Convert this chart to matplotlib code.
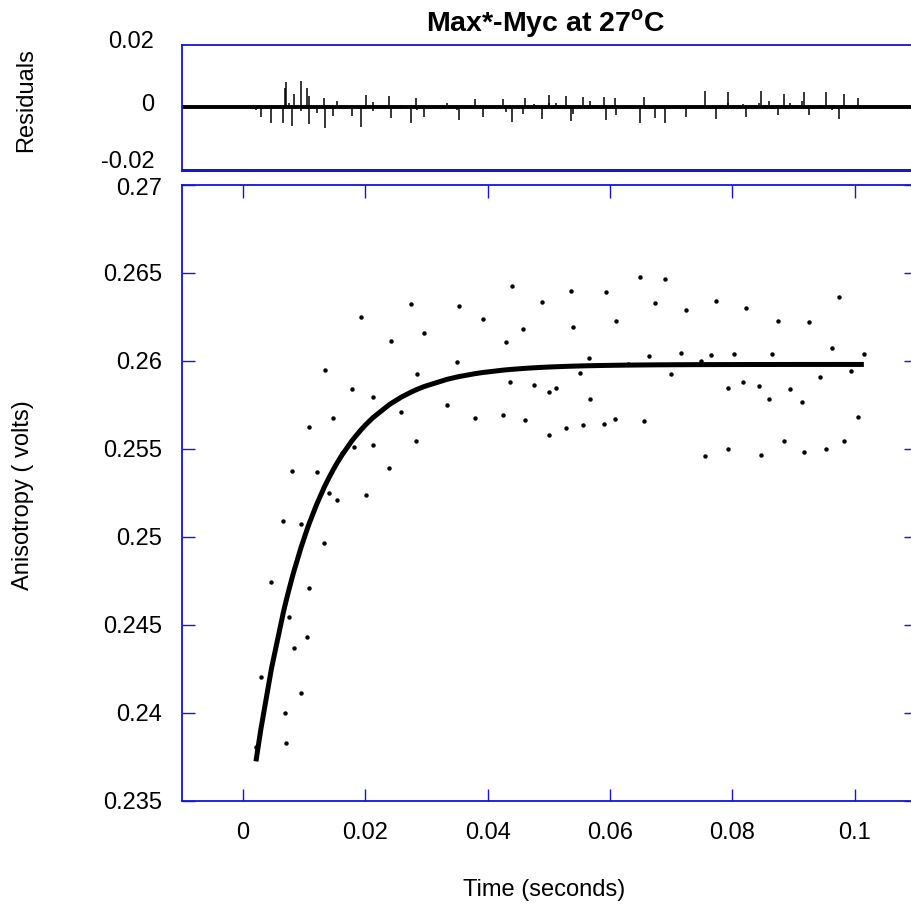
import numpy as np
import matplotlib.pyplot as plt
import matplotlib.transforms as mtransforms

plt.rcParams['font.family'] = ['Liberation Sans', 'DejaVu Sans']
plt.rcParams['mathtext.fontset'] = 'custom'
plt.rcParams['mathtext.rm'] = 'Liberation Sans'
plt.rcParams['mathtext.bf'] = 'Liberation Sans:bold'

# measured anisotropy (time in s, value in volts)
time_s = [0.00209, 0.00286, 0.00463, 0.00659, 0.00680, 0.00705, 0.00744, 0.00806,
          0.00827, 0.00945, 0.00945, 0.01048, 0.01081, 0.01081, 0.01202, 0.01321,
          0.01333, 0.01403, 0.01473, 0.01539, 0.01616, 0.01774, 0.01812, 0.01926,
          0.02008, 0.02119, 0.02123, 0.02389, 0.02420, 0.02584, 0.02749, 0.02831,
          0.02842, 0.02965, 0.03333, 0.03491, 0.03534, 0.03791, 0.03917, 0.04245,
          0.04302, 0.04355, 0.04388, 0.04576, 0.04603, 0.04755, 0.04886, 0.04996,
          0.04997, 0.05110, 0.05271, 0.05356, 0.05396, 0.05513, 0.05562, 0.05650,
          0.05666, 0.05900, 0.05925, 0.06075, 0.06101, 0.06293, 0.06484, 0.06559,
          0.06636, 0.06734, 0.06903, 0.07001, 0.07164, 0.07244, 0.07481, 0.07547,
          0.07645, 0.07737, 0.07928, 0.07928, 0.08029, 0.08178, 0.08226, 0.08427,
          0.08473, 0.08603, 0.08647, 0.08746, 0.08839, 0.08937, 0.09138, 0.09171,
          0.09257, 0.09437, 0.09531, 0.09629, 0.09738, 0.09830, 0.09944, 0.10049,
          0.10149]
anisotropy = [0.23805, 0.24203, 0.24744, 0.25088, 0.24000, 0.23830, 0.24542, 0.25372,
              0.24368, 0.25072, 0.24110, 0.24432, 0.24707, 0.25624, 0.25369, 0.24966,
              0.25947, 0.25250, 0.25673, 0.25210, 0.25476, 0.25838, 0.25511, 0.26251,
              0.25235, 0.25521, 0.25793, 0.25389, 0.26111, 0.25711, 0.26326, 0.25545,
              0.25923, 0.26157, 0.25747, 0.25992, 0.26315, 0.25674, 0.26239, 0.25695,
              0.26108, 0.25879, 0.26424, 0.26184, 0.25662, 0.25865, 0.26334, 0.25824,
              0.25581, 0.25844, 0.25620, 0.26398, 0.26195, 0.25934, 0.25636, 0.26018,
              0.25786, 0.25639, 0.26389, 0.25667, 0.26227, 0.25982, 0.26477, 0.25656,
              0.26030, 0.26328, 0.26468, 0.25923, 0.26044, 0.26288, 0.26000, 0.25461,
              0.26032, 0.26343, 0.25847, 0.25502, 0.26042, 0.25879, 0.26299, 0.25858,
              0.25464, 0.25782, 0.26039, 0.26227, 0.25542, 0.25841, 0.25769, 0.25481,
              0.26224, 0.25906, 0.25498, 0.26076, 0.26364, 0.25542, 0.25943, 0.25684,
              0.26038]

# single exponential fit: plateau - amp * exp(-k t)
fit_plateau = 0.2598
fit_amp = 0.0281
fit_k = 105.0

xticks = [0, 0.02, 0.04, 0.06, 0.08, 0.1]
xtick_labels = ['0', '0.02', '0.04', '0.06', '0.08', '0.1']
yticks = [0.235, 0.24, 0.245, 0.25, 0.255, 0.26, 0.265, 0.27]
ytick_labels = ['0.235', '0.24', '0.245', '0.25', '0.255', '0.26', '0.265', '0.27']
rticks = [-0.02, 0, 0.02]
rtick_labels = ['-0.02', '0', '0.02']

t = np.array(time_s)
v = np.array(anisotropy)
fit = fit_plateau - fit_amp * np.exp(-fit_k * t)
resid = fit - v

blue = '#1414dc'
W, H = 912, 907
fig = plt.figure(figsize=(W / 100, H / 100), dpi=100)


def box(x0, y0, x1, y1):
    return [x0 / W, 1 - y1 / H, (x1 - x0) / W, (y1 - y0) / H]


def nudge(label, dy_px):
    label.set_transform(label.get_transform() +
                        mtransforms.ScaledTranslation(0, dy_px / 100, fig.dpi_scale_trans))


ax = fig.add_axes(box(182, 185, 915.9, 800.7))
axr = fig.add_axes(box(182, 45, 915.9, 169.5))

# main panel
ax.plot(t, v, ls='none', marker='o', ms=2.2, color='k')
ax.plot(t, fit, color='k', lw=3.6, solid_capstyle='butt')
ax.set_xlim(-0.01, 0.11)
ax.set_ylim(0.235, 0.27)
ax.set_xticks(xticks, xtick_labels)
ax.set_yticks(yticks, ytick_labels)
ax.tick_params(direction='in', length=9, width=1, color=blue, top=True, right=True,
               labelsize=17)
ax.tick_params(axis='x', pad=15)
ax.tick_params(axis='y', pad=14.5)
for s in ax.spines.values():
    s.set_color(blue)
    s.set_linewidth(1.3)

# residual panel
axr.vlines(t, 0, resid, color='k', lw=1.1)
axr.axhline(0, color='k', lw=2.8)
axr.set_xlim(-0.01, 0.11)
axr.set_ylim(-0.02, 0.02)
axr.set_xticks([])
axr.set_yticks(rticks, rtick_labels)
axr.tick_params(axis='y', length=0, labelsize=17, pad=20)
for s in axr.spines.values():
    s.set_color(blue)
    s.set_linewidth(1.3)
axr.spines['bottom'].set_linewidth(2.2)

# labels at the panel edges sit a little apart, as in the original
for lab, dy in zip(axr.get_yticklabels(), [10, 5, 5]):
    nudge(lab, dy)
nudge(ax.get_yticklabels()[-1], -2)

fig.text(546 / W, 1 - 24 / H, r'Max*-Myc at 27$^{\mathbf{o}}$C', fontsize=20.5,
         fontweight='bold', ha='center', va='center')
fig.text(544 / W, 1 - 890 / H, 'Time (seconds)', fontsize=17, ha='center', va='center')
fig.text(23 / W, 1 - 495 / H, 'Anisotropy ( volts)', fontsize=17, rotation=90,
         ha='center', va='center')
fig.text(26 / W, 1 - 100 / H, 'Residuals', fontsize=17, rotation=90,
         ha='center', va='center')

fig.savefig('out.png', dpi=100)
